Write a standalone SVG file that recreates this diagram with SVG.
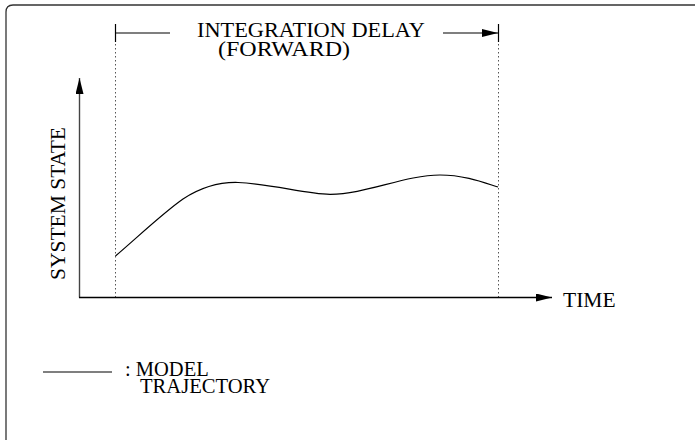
<svg xmlns="http://www.w3.org/2000/svg" width="695" height="440" viewBox="0 0 695 440">
<style>
.t{font-family:"Liberation Serif","Times New Roman",serif;font-size:21.5px;fill:#000}
.s{font-size:20.5px}
.ln{stroke:#000;stroke-width:1.2;fill:none}
.dot{stroke:#555;stroke-width:1;stroke-dasharray:1.5 2.5;fill:none}
</style>
<defs>
<marker id="ah" markerWidth="16" markerHeight="8" refX="16" refY="4" orient="auto" markerUnits="userSpaceOnUse">
<path d="M0,0 L16,4 L0,8 Z" fill="#000"/>
</marker>
</defs>
<rect width="695" height="440" fill="#fff"/>
<path d="M6,440 V12 Q6,5 13,5 H695" fill="none" stroke="#333" stroke-width="1.3"/>
<g id="connectors">
<line class="dot" x1="115.5" y1="24" x2="115.5" y2="297"/>
<line class="dot" x1="498.5" y1="24" x2="498.5" y2="297"/>
<line class="ln" x1="115.5" y1="24" x2="115.5" y2="42"/>
<line class="ln" x1="498.5" y1="24" x2="498.5" y2="42"/>
<line class="ln" x1="115.5" y1="33" x2="170" y2="33"/>
<line class="ln" x1="443" y1="33" x2="498" y2="33" marker-end="url(#ah)"/>
<line x1="79.5" y1="297.5" x2="79.5" y2="78" stroke="#444" stroke-width="1.4" marker-end="url(#ah)"/>
<line x1="79" y1="297.5" x2="552" y2="297.5" stroke="#000" stroke-width="1.4" marker-end="url(#ah)"/>
</g>
<g id="curve">
<path class="ln" d="M115.5,256 C140,235 163,213 183,199 C203,186 220,182 238,182.5 C273,184 305,194 330,194.3 C365,194.5 405,175 440,175 C465,175 485,183 498,187"/>
</g>
<g id="title">
<text class="t s" x="197" y="37" textLength="228" lengthAdjust="spacingAndGlyphs">INTEGRATION DELAY</text>
<text class="t s" x="218" y="56" textLength="132" lengthAdjust="spacingAndGlyphs">(FORWARD)</text>
</g>
<g id="ylabel">
<text class="t" transform="translate(65,203.5) rotate(-90)" text-anchor="middle">SYSTEM STATE</text>
</g>
<g id="xlabel">
<text class="t" x="563" y="306.5">TIME</text>
</g>
<g id="legend">
<line class="ln" x1="43" y1="372" x2="112" y2="372"/>
<text class="t s" x="125" y="376">: MODEL</text>
<text class="t s" x="140" y="393" textLength="130" lengthAdjust="spacingAndGlyphs">TRAJECTORY</text>
</g>
</svg>
